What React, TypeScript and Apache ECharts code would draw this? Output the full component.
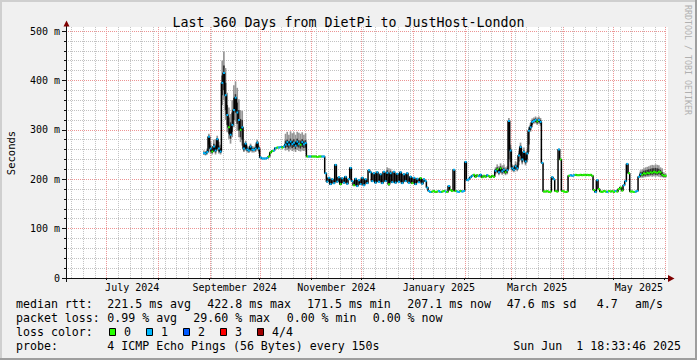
import React, { useEffect, useRef } from "react";
import * as echarts from "echarts";

const DAY = 86400000;
const FONT = "'DejaVu Sans Mono', 'Liberation Mono', monospace";

const rangeStart = "2024-06-06T18:33:46Z";
const rangeEnd = "2025-06-01T18:33:46Z";
const dataStart = "2024-08-28T00:00:00Z";
const firstMonday = "2024-06-10T00:00:00Z";

const monthStarts = [
  "2024-07-01", "2024-08-01", "2024-09-01", "2024-10-01", "2024-11-01", "2024-12-01",
  "2025-01-01", "2025-02-01", "2025-03-01", "2025-04-01", "2025-05-01", "2025-06-01",
];
const labelMonths = ["2024-07", "2024-09", "2024-11", "2025-01", "2025-03", "2025-05"];
const labelTexts = ["July 2024", "September 2024", "November 2024", "January 2025", "March 2025", "May 2025"];

const yTicks = [0, 100, 200, 300, 400, 500];
const yTickLabels = ["0", "100 m", "200 m", "300 m", "400 m", "500 m"];

// daily median rtt (ms), one value per day from 2024-08-28
const median = [
  253, 252, 255, 286, 262, 256, 266, 258, 281, 262, 256,
  395, 415, 370, 330, 305, 290, 310, 340, 365, 335, 320, 300, 305,
  262, 272, 260, 258, 266, 260, 259, 262, 274, 262,
  244, 242, 242, 242, 243, 246, 254, 257, 258, 263, 264, 264, 265, 264, 266,
  270, 275, 270, 276, 271, 274, 268, 276, 272, 270, 275, 271, 273,
  246, 246, 246, 246, 246, 246, 245, 246, 246, 246, 246,
  212, 195, 203, 190, 200, 192, 229, 195, 204, 190,
  202, 193, 205, 191, 200, 223, 196, 188, 201, 186,
  198, 190, 203, 188, 200, 192, 218, 214, 196, 212,
  193, 214, 195, 210, 192, 215, 196, 213, 190, 212,
  194, 215, 193, 211, 195, 214, 192, 210, 196, 212,
  193, 205, 192, 203, 190, 201, 194, 202, 191, 200, 196,
  183, 176, 174, 175, 176, 174, 175, 176, 174, 175, 176, 175, 174,
  186, 178, 176, 219, 176, 175, 174, 176, 175, 176, 235, 198, 200,
  204, 207, 209, 205, 208, 206, 209, 204, 207, 205, 208, 206, 204, 207, 205,
  217, 220, 214, 222, 216, 219, 214, 218,
  318, 258, 222, 219, 226, 222, 248, 265, 240, 255, 236, 252, 298, 305, 316, 318, 320, 317, 320, 316,
  233, 175, 175, 176, 174, 175, 204, 200, 176, 175, 260, 240, 176, 175, 174, 175,
  207, 208, 207, 208, 209, 208, 208, 209, 208, 209, 208, 209, 208, 209, 207,
  178, 174, 198, 180, 175, 174, 176, 175, 174, 176, 175, 176, 174, 176, 175, 180, 183, 177, 188, 196, 231, 212, 175, 175, 174, 175, 176, 205,
  210, 209, 212, 211, 213, 212, 214, 213, 215, 214, 213, 215, 214, 209, 207, 207,
];

// lost pings per day (0..4)
const loss = [
  1, 1, 1, 1, 1, 0, 1, 1, 1, 1, 1,
  1, 1, 1, 1, 0, 1, 1, 1, 1, 1, 1, 0, 1,
  1, 1, 1, 1, 1, 1, 1, 1, 1, 1,
  1, 1, 1, 1, 1, 0, 0, 0, 1, 1, 0, 1, 1, 0, 1,
  1, 1, 1, 1, 1, 1, 1, 1, 1, 0, 1, 1, 1,
  0, 1, 1, 0, 0, 0, 0, 0, 0, 1, 1,
  1, 1, 1, 1, 1, 1, 1, 1, 1, 0,
  1, 1, 1, 1, 1, 1, 1, 0, 1, 1,
  1, 1, 1, 1, 1, 1, 1, 1, 1, 1,
  1, 1, 1, 1, 1, 1, 1, 1, 0, 1,
  1, 1, 1, 1, 1, 1, 1, 1, 1, 1,
  1, 1, 0, 1, 1, 1, 1, 0, 1, 1, 1,
  1, 1, 1, 0, 0, 0, 0, 1, 1, 0, 0, 1, 0,
  1, 0, 0, 1, 0, 1, 1, 0, 1, 1, 1, 1, 1,
  1, 1, 0, 0, 0, 1, 1, 0, 0, 0, 1, 0, 0, 0, 0,
  1, 0, 1, 0, 1, 1, 0, 1,
  1, 1, 1, 1, 1, 1, 1, 1, 1, 1, 1, 1, 1, 1, 1, 1, 1, 0, 1, 1,
  1, 0, 0, 0, 0, 0, 1, 1, 0, 0, 1, 0, 0, 0, 0, 0,
  0, 1, 1, 1, 0, 0, 0, 0, 0, 0, 0, 0, 0, 0, 0,
  0, 1, 1, 0, 0, 0, 0, 0, 1, 0, 0, 0, 0, 1, 0, 0, 0, 0, 1, 1, 1, 0, 0, 0, 0, 1, 1, 1,
  1, 0, 0, 0, 0, 0, 0, 0, 0, 0, 0, 0, 0, 0, 0, 0,
];

// smoke (spread of the pings) on days where it is visible
const smokeDays = [
  0, 1, 2, 3, 4, 5, 6, 7, 8, 9, 10, 11, 12, 13, 14, 15, 16, 17, 18, 19, 20, 21, 22, 23,
  24, 25, 26, 27, 28, 29, 30, 31, 32, 33,
  49, 50, 51, 52, 53, 54, 55, 56, 57, 58, 59, 60, 61,
  110, 111, 112,
  175, 176, 177, 178, 179, 180, 181, 182, 183, 184, 185, 186, 187, 188, 189, 190, 191, 192,
  193, 194, 195, 196, 197, 198, 199, 200, 201, 202,
  262, 263, 264, 265, 266, 267, 268, 269, 270, 271, 272, 273, 274, 275, 276, 277,
];
const smokeLo = [
  249, 248, 250, 262, 252, 250, 255, 250, 258, 252, 250, 350, 360, 320, 295, 282, 272, 285, 305, 318, 298, 285, 275, 268,
  255, 258, 254, 253, 256, 254, 254, 255, 258, 252,
  258, 259, 256, 260, 257, 258, 255, 259, 257, 256, 258, 257, 258,
  206, 186, 205,
  210, 212, 208, 212, 209, 211, 208, 210, 220, 225, 216, 214, 218, 216, 228, 238, 230, 236,
  228, 234, 255, 296, 305, 312, 313, 310, 312, 308,
  203, 203, 204, 204, 205, 205, 206, 205, 206, 205, 206, 205, 204, 204, 203, 203,
];
const smokeInLo = [
  251, 250, 253, 270, 256, 253, 260, 254, 265, 256, 253, 370, 380, 340, 310, 292, 282, 296, 320, 335, 312, 298, 285, 280,
  258, 262, 257, 256, 260, 257, 257, 258, 262, 256,
  263, 265, 262, 266, 263, 265, 261, 266, 264, 262, 265, 263, 264,
  209, 188, 208,
  213, 215, 211, 216, 212, 214, 211, 213, 240, 235, 219, 217, 222, 219, 236, 248, 234, 242,
  232, 240, 270, 300, 310, 315, 316, 313, 316, 312,
  206, 206, 207, 207, 208, 208, 209, 209, 210, 209, 209, 210, 209, 206, 205, 205,
];
const smokeInHi = [
  255, 254, 258, 288, 268, 260, 272, 262, 283, 268, 262, 410, 430, 395, 350, 325, 315, 335, 365, 372, 355, 340, 322, 320,
  266, 274, 264, 262, 268, 263, 262, 265, 276, 265,
  278, 280, 277, 282, 278, 281, 276, 282, 279, 278, 281, 278, 279,
  218, 205, 216,
  220, 224, 218, 226, 220, 223, 218, 222, 320, 262, 226, 223, 230, 228, 252, 268, 246, 258,
  242, 256, 302, 310, 319, 321, 323, 320, 323, 320,
  214, 215, 217, 218, 219, 220, 221, 222, 222, 223, 222, 221, 219, 214, 210, 209,
];
const smokeHi = [
  258, 257, 262, 292, 275, 266, 280, 270, 288, 276, 270, 440, 458, 425, 375, 345, 332, 360, 390, 398, 385, 362, 340, 338,
  270, 278, 268, 266, 272, 267, 266, 270, 280, 268,
  292, 296, 290, 297, 293, 295, 290, 296, 294, 292, 295, 290, 293,
  224, 222, 221,
  224, 230, 226, 232, 228, 230, 224, 226, 324, 270, 230, 228, 236, 234, 258, 274, 252, 264,
  248, 262, 306, 314, 323, 325, 327, 325, 327, 324,
  218, 220, 222, 224, 225, 226, 228, 229, 228, 230, 229, 228, 224, 222, 214, 212,
];

const lossColors = ["#26ff00", "#00b8ff", "#0059ff", "#ff0000", "#a00000"];
const lossLabels = ["0", "1", "2", "3", "4/4"];

const legendLines = [
  { y: 304, parts: [[16, "median rtt:"], [107.3, "221.5 ms avg"], [207.3, "422.8 ms max"], [307, "171.5 ms min"], [407.3, "207.1 ms now"], [506.7, "47.6 ms sd"], [596.7, "4.7"], [635, "am/s"]] },
  { y: 318, parts: [[16, "packet loss:"], [107.3, "0.99 % avg"], [193.3, "29.60 % max"], [286.7, "0.00 % min"], [372.7, "0.00 % now"]] },
  { y: 332, parts: [[16, "loss color:"]] },
  { y: 346, parts: [[16, "probe:"], [107.3, "4 ICMP Echo Pings (56 Bytes) every 150s"], [513.3, "Sun Jun"], [576.3, "1 18:33:46 2025"]] },
];

const MINOR = "#c2c2c2";
const MAJOR = "#ec9494";

function txt(x: number, y: number, text: string, size: number, extra: any = {}) {
  return {
    type: "text",
    x,
    y,
    z: 60,
    silent: true,
    style: {
      text,
      fontFamily: FONT,
      fontSize: size,
      fill: extra.fill || "#000",
      align: extra.align || "left",
      textAlign: extra.align || "left",
      verticalAlign: "middle",
      textVerticalAlign: "middle",
    },
    rotation: extra.rotation || 0,
  };
}

export default function App() {
  const ref = useRef<HTMLDivElement>(null);

  useEffect(() => {
    if (!ref.current) return;
    document.body.style.margin = "0";
    const chart = echarts.init(ref.current, undefined, { renderer: "svg" });

    const START = Date.parse(rangeStart);
    const END = Date.parse(rangeEnd);
    const D0 = Date.parse(dataStart);
    const monthTs = monthStarts.map((m) => Date.parse(m + "T00:00:00Z"));
    const labelTs = labelMonths.map((m) => {
      const [y, mo] = m.split("-").map(Number);
      return (Date.UTC(y, mo - 1, 1) + Date.UTC(y, mo, 1)) / 2;
    });
    const weekTs: number[] = [];
    for (let t = Date.parse(firstMonday); t < END; t += 7 * DAY) {
      if (!monthTs.includes(t)) weekTs.push(t);
    }
    const gridData = [
      ...weekTs.map((t) => [t, 0, 0]),
      ...monthTs.map((t) => [t, 0, 1]),
    ];

    const smokeData = smokeDays.map((d, i) => [D0 + d * DAY, smokeLo[i], smokeInLo[i], smokeInHi[i], smokeHi[i]]);
    const lineData = median.map((v, i) => [D0 + i * DAY + DAY / 2, v]);
    const lossData = median.map((v, i) => [D0 + i * DAY, v, loss[i]]);

    const graphics: any[] = [
      { type: "rect", z: 70, silent: true, shape: { x: 0, y: 0, width: 697, height: 2 }, style: { fill: "#cfcfcf" } },
      { type: "rect", z: 70, silent: true, shape: { x: 0, y: 0, width: 2, height: 360 }, style: { fill: "#cfcfcf" } },
      { type: "rect", z: 70, silent: true, shape: { x: 0, y: 358, width: 697, height: 2 }, style: { fill: "#9e9e9e" } },
      { type: "rect", z: 70, silent: true, shape: { x: 695, y: 0, width: 2, height: 360 }, style: { fill: "#9e9e9e" } },
      { type: "rect", z: -10, silent: true, shape: { x: 67, y: 27, width: 601, height: 5 }, style: { fill: "#ffffff" } },
      { type: "rect", z: -10, silent: true, shape: { x: 666, y: 27, width: 2, height: 251 }, style: { fill: "#ffffff" } },
      { type: "line", z: 50, silent: true, shape: { x1: 66.5, y1: 25, x2: 66.5, y2: 282 }, style: { stroke: "#101010", lineWidth: 1 } },
      { type: "line", z: 50, silent: true, shape: { x1: 62, y1: 278.5, x2: 670, y2: 278.5 }, style: { stroke: "#101010", lineWidth: 1 } },
      { type: "polygon", z: 51, silent: true, shape: { points: [[63.5, 26.5], [66.5, 20.5], [69.5, 26.5]] }, style: { fill: "#7f0000" } },
      { type: "polygon", z: 51, silent: true, shape: { points: [[668, 275], [674.5, 278.5], [668, 282]] }, style: { fill: "#7f0000" } },
      txt(11, 153, "Seconds", 10.5, { align: "center", rotation: Math.PI / 2 }),
      txt(688, 60, "RRDTOOL / TOBI OETIKER", 8.3, { align: "center", rotation: -Math.PI / 2, fill: "#b0b0b0" }),
    ];
    legendLines.forEach((ln) => {
      ln.parts.forEach(([x, t]) => graphics.push(txt(x as number, ln.y, t as string, 11.6)));
    });
    lossColors.forEach((c, i) => {
      const bx = 109.5 + i * 37;
      graphics.push({
        type: "rect", z: 60, silent: true,
        shape: { x: bx, y: 328.5, width: 6, height: 7 },
        style: { fill: c, stroke: "#000", lineWidth: 1 },
      });
      graphics.push(txt(bx + 14.5, 332, lossLabels[i], 11.6));
    });

    chart.setOption({
      animation: false,
      backgroundColor: "#f0f0f0",
      title: {
        text: "Last 360 Days from DietPi to JustHost-London",
        left: "center",
        top: 11,
        textStyle: { fontFamily: FONT, fontSize: 13.3, fontWeight: "normal", color: "#000" },
      },
      grid: { left: 66, top: 31, width: 600, height: 247, show: true, backgroundColor: "#ffffff", borderWidth: 0 },
      xAxis: {
        type: "value",
        min: START,
        max: END,
        axisLine: { show: false },
        splitLine: { show: false },
        axisTick: { show: true, customValues: monthTs, length: 2, lineStyle: { color: "#101010" } },
        axisLabel: {
          customValues: labelTs,
          fontFamily: FONT,
          fontSize: 10,
          color: "#000",
          margin: 4,
          formatter: (v: number) => {
            let best = 0;
            labelTs.forEach((t, i) => { if (Math.abs(t - v) < Math.abs(labelTs[best] - v)) best = i; });
            return labelTexts[best];
          },
        },
      },
      yAxis: {
        type: "value",
        min: 0,
        max: 500,
        interval: 100,
        axisLine: { show: false },
        axisTick: { show: true, length: 4, lineStyle: { color: "#101010" } },
        minorTick: { show: true, splitNumber: 5, length: 2, lineStyle: { color: "#101010" } },
        splitLine: { show: true, lineStyle: { color: MAJOR, type: [1, 1], width: 1 } },
        minorSplitLine: { show: true, lineStyle: { color: MINOR, type: [1, 1], width: 1 } },
        axisLabel: {
          fontFamily: FONT,
          fontSize: 10,
          color: "#000",
          margin: 6,
          formatter: (v: number) => yTickLabels[yTicks.indexOf(v)] ?? "",
        },
      },
      series: [
        {
          type: "custom", z: 1, silent: true,
          data: gridData,
          encode: { x: 0, y: 1 },
          renderItem: (params: any, api: any) => {
            const t = api.value(0);
            const top = api.coord([t, 508]);
            const bottom = api.coord([t, 0]);
            const x = Math.round(top[0]) + 0.5;
            return {
              type: "line",
              shape: { x1: x, y1: top[1], x2: x, y2: bottom[1] },
              style: { stroke: api.value(2) ? MAJOR : MINOR, lineWidth: 1, lineDash: [1, 1] },
            };
          },
        },
        {
          type: "custom", z: 3, silent: true,
          data: smokeData,
          encode: { x: 0, y: [1, 4] },
          renderItem: (params: any, api: any) => {
            const t = api.value(0);
            const a = api.coord([t, api.value(4)]);
            const b = api.coord([t + DAY, api.value(1)]);
            const c = api.coord([t, api.value(3)]);
            const d = api.coord([t + DAY, api.value(2)]);
            return {
              type: "group",
              children: [
                { type: "rect", shape: { x: a[0], y: a[1], width: b[0] - a[0], height: b[1] - a[1] }, style: { fill: "#959595" } },
                { type: "rect", shape: { x: c[0], y: c[1], width: d[0] - c[0], height: d[1] - c[1] }, style: { fill: "#343434" } },
              ],
            };
          },
        },
        {
          type: "line", z: 4, silent: true,
          data: lineData,
          step: "middle",
          symbol: "none",
          lineStyle: { color: "#000", width: 1.5 },
        },
        {
          type: "custom", z: 5, silent: true,
          data: lossData,
          encode: { x: 0, y: 1 },
          renderItem: (params: any, api: any) => {
            const t = api.value(0);
            const v = api.value(1);
            const p0 = api.coord([t, v]);
            const p1 = api.coord([t + DAY, v]);
            return {
              type: "rect",
              shape: { x: p0[0], y: p0[1] - 1, width: p1[0] - p0[0] + 0.2, height: 2 },
              style: { fill: lossColors[api.value(2)] },
            };
          },
        },
      ],
      graphic: graphics,
    });

    return () => chart.dispose();
  }, []);

  return <div ref={ref} style={{ position: "absolute", left: 0, top: 0, width: 697, height: 360 }} />;
}
